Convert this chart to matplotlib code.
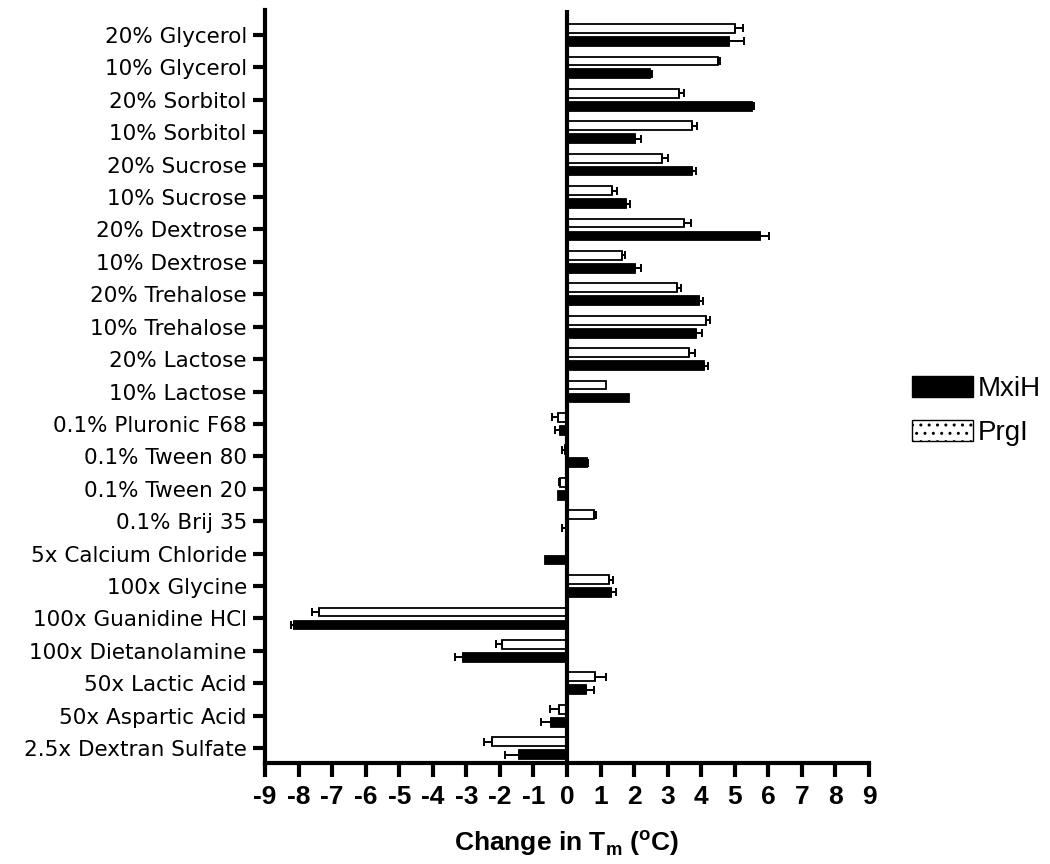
import numpy as np
import matplotlib
matplotlib.use("Agg")
import matplotlib.pyplot as plt
from matplotlib.patches import Patch

categories = ["20% Glycerol", "10% Glycerol", "20% Sorbitol", "10% Sorbitol",
              "20% Sucrose", "10% Sucrose", "20% Dextrose", "10% Dextrose",
              "20% Trehalose", "10% Trehalose", "20% Lactose", "10% Lactose",
              "0.1% Pluronic F68", "0.1% Tween 80", "0.1% Tween 20", "0.1% Brij 35",
              "5x Calcium Chloride", "100x Glycine", "100x Guanidine HCl",
              "100x Dietanolamine", "50x Lactic Acid", "50x Aspartic Acid",
              "2.5x Dextran Sulfate"]

mxih = [4.84, 2.48, 5.52, 2.03, 3.73, 1.76, 5.76, 2.03, 3.94, 3.85, 4.09, 1.85,
        -0.22, 0.60, -0.27, -0.03, -0.65, 1.31, -8.15, -3.10, 0.57, -0.49, -1.44]
mxih_err = [0.42, 0.05, 0.05, 0.18, 0.10, 0.12, 0.27, 0.18, 0.12, 0.18, 0.12, 0.0,
            0.15, 0.03, 0.0, 0.12, 0.0, 0.15, 0.08, 0.23, 0.24, 0.27, 0.41]

prgi = [5.01, 4.51, 3.34, 3.73, 2.84, 1.34, 3.49, 1.64, 3.28, 4.15, 3.64, 1.16,
        -0.27, -0.05, -0.20, 0.80, 0.0, 1.25, -7.40, -1.95, 0.84, -0.24, -2.24]
prgi_err = [0.24, 0.05, 0.15, 0.15, 0.18, 0.15, 0.20, 0.09, 0.12, 0.12, 0.18, 0.0,
            0.17, 0.10, 0.05, 0.05, 0.0, 0.13, 0.20, 0.18, 0.32, 0.27, 0.24]

xticks = list(range(-9, 10))

plt.rcParams['font.family'] = ['Liberation Sans', 'DejaVu Sans']
plt.rcParams['hatch.linewidth'] = 1.0

fig = plt.figure(figsize=(10.5, 8.64), dpi=100)
ax = fig.add_axes([265 / 1050, 1 - 763 / 864, (869 - 265) / 1050, (763 - 10) / 864])

y = np.arange(len(categories))
h = 0.27
off = 0.2


def draw(vals, errs, ypos, color):
    vals = np.asarray(vals, float)
    errs = np.asarray(errs, float)
    ax.barh(ypos, vals, height=h, color=color, edgecolor='black', linewidth=1.3, zorder=2)
    m = errs > 0
    lo = np.where(vals < 0, errs, 0.0)[m]
    hi = np.where(vals >= 0, errs, 0.0)[m]
    ax.errorbar(vals[m], ypos[m], xerr=[lo, hi], fmt='none', ecolor='black',
                elinewidth=1.4, capsize=3, capthick=1.4, zorder=3)


draw(prgi, prgi_err, y - off, 'white')
draw(mxih, mxih_err, y + off, 'black')

ax.axvline(0, color='black', lw=3, zorder=4)

ax.set_xlim(-9, 9)
ax.set_ylim(22.46, -0.77)
ax.set_xticks(xticks)
ax.set_xticklabels([str(t) for t in xticks], fontsize=19, fontweight='bold')
ax.set_yticks(y)
ax.set_yticklabels(categories, fontsize=15.5, family=['DejaVu Sans'])

for s in ['top', 'right']:
    ax.spines[s].set_visible(False)
for s in ['left', 'bottom']:
    ax.spines[s].set_linewidth(3)

ax.tick_params(axis='y', length=8.6, width=3, pad=4.5)
ax.tick_params(axis='x', length=10, width=3, pad=6)

ax.set_xlabel(r'Change in T$_\mathregular{m}$ ($^\mathregular{o}$C)', fontsize=19,
              fontweight='bold', labelpad=14)

handles = [Patch(facecolor='black', edgecolor='black', linewidth=1),
           Patch(facecolor='white', edgecolor='black', linewidth=1, hatch='..')]
ax.legend(handles, ['MxiH', 'PrgI'], loc='upper left',
          bbox_to_anchor=(912 / 1050, 1 - 376 / 864), bbox_transform=fig.transFigure,
          frameon=False, fontsize=20, borderpad=0, borderaxespad=0,
          handlelength=2.2, handleheight=0.76, handletextpad=0.18, labelspacing=0.66)

fig.savefig('out.png', dpi=100)
